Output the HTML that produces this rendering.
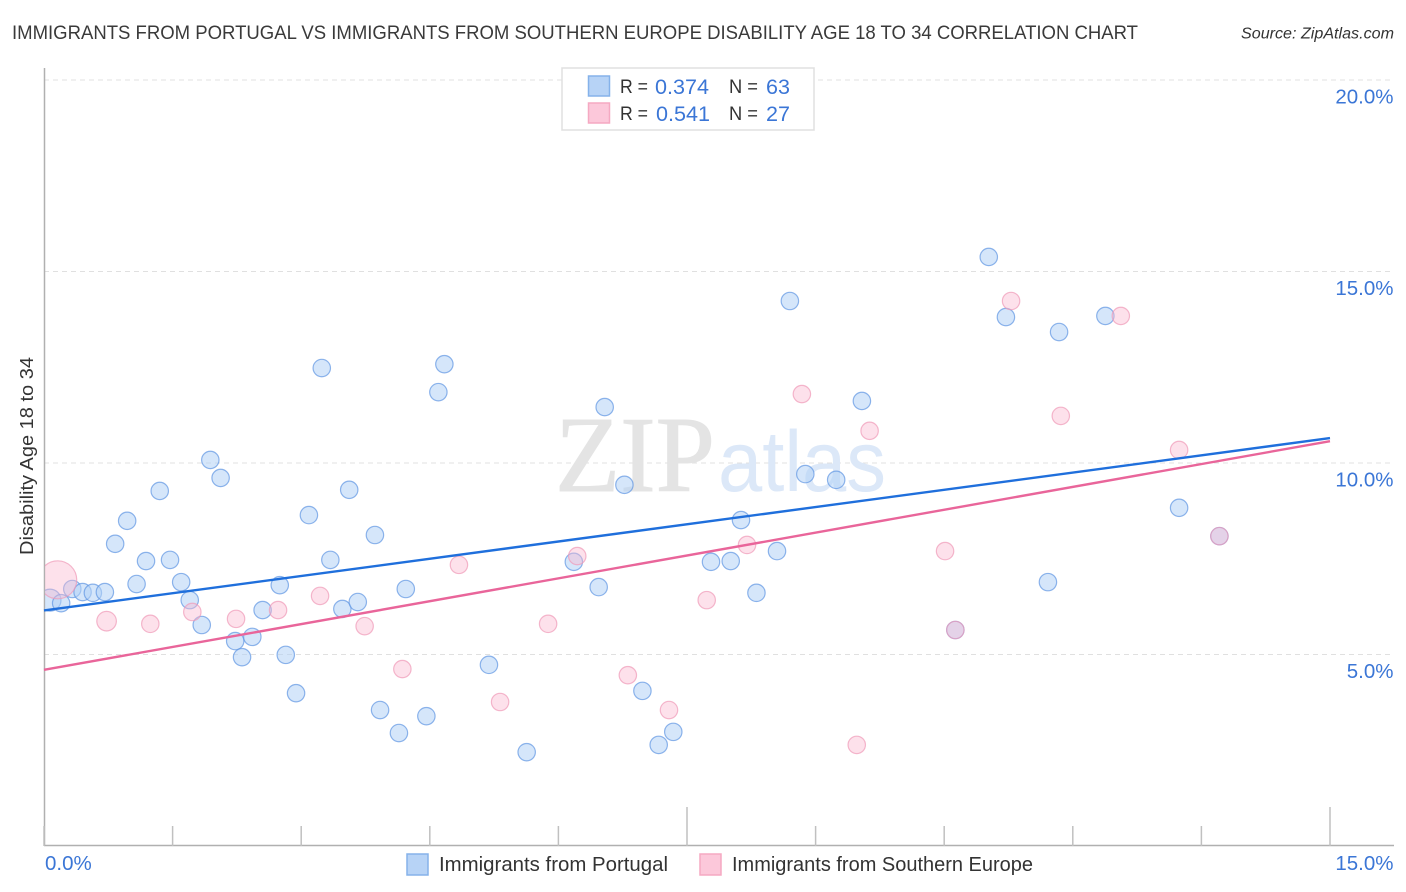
<!DOCTYPE html>
<html>
<head>
<meta charset="utf-8">
<title>Immigrants from Portugal vs Immigrants from Southern Europe Disability Age 18 to 34 Correlation Chart</title>
<style>
html,body{margin:0;padding:0;background:#fff;}
svg{display:block;font-family:"Liberation Sans",sans-serif;}
</style>
</head>
<body>
<svg id="chart" xmlns="http://www.w3.org/2000/svg" width="1406" height="892" viewBox="0 0 1406 892">
  <text x="12" y="39" font-size="19" fill="#3a3a3a" textLength="1126" lengthAdjust="spacingAndGlyphs">IMMIGRANTS FROM PORTUGAL VS IMMIGRANTS FROM SOUTHERN EUROPE DISABILITY AGE 18 TO 34 CORRELATION CHART</text>
  <text x="1241" y="38.5" font-size="15.5" font-style="italic" fill="#333" textLength="153" lengthAdjust="spacingAndGlyphs">Source: ZipAtlas.com</text>

  <g id="grid"></g>

  <g>
    <text x="555" y="491" font-family="'Liberation Serif',serif" font-size="108" fill="#e4e4e4" stroke="#e4e4e4" stroke-width="1" textLength="160" lengthAdjust="spacingAndGlyphs">ZIP</text>
    <text x="718" y="491" font-size="86" fill="#dce8f8" textLength="168" lengthAdjust="spacingAndGlyphs">atlas</text>
  </g>

  <g id="axes"></g>
  <g id="points-blue"></g>
  <g id="points-pink"></g>
  <g id="lines"></g>
  <g id="labels"></g>

  <text transform="translate(33,456) rotate(-90)" text-anchor="middle" font-size="18.5" fill="#333" textLength="198" lengthAdjust="spacingAndGlyphs">Disability Age 18 to 34</text>

  <g>
    <rect x="562" y="68" width="252" height="62" fill="#fff" stroke="#e0e0e0" stroke-width="1.5"/>
    <rect x="588.5" y="76" width="21" height="20" fill="#b7d3f6" stroke="#85b2ea" stroke-width="1.5"/>
    <rect x="588.5" y="103" width="21" height="20" fill="#fcc8da" stroke="#f5a9c2" stroke-width="1.5"/>
    <text x="620" y="93" font-size="19.5" fill="#333" textLength="28" lengthAdjust="spacingAndGlyphs">R =</text>
    <text x="655" y="94" font-size="21" fill="#3b76d6" textLength="54" lengthAdjust="spacingAndGlyphs">0.374</text>
    <text x="729" y="93" font-size="19.5" fill="#333" textLength="29" lengthAdjust="spacingAndGlyphs">N =</text>
    <text x="766" y="94" font-size="21" fill="#3b76d6" textLength="24" lengthAdjust="spacingAndGlyphs">63</text>
    <text x="620" y="120" font-size="19.5" fill="#333" textLength="28" lengthAdjust="spacingAndGlyphs">R =</text>
    <text x="656" y="121" font-size="21" fill="#3b76d6" textLength="54" lengthAdjust="spacingAndGlyphs">0.541</text>
    <text x="729" y="120" font-size="19.5" fill="#333" textLength="29" lengthAdjust="spacingAndGlyphs">N =</text>
    <text x="766" y="121" font-size="21" fill="#3b76d6" textLength="24" lengthAdjust="spacingAndGlyphs">27</text>
  </g>

  <g>
    <rect x="407" y="854" width="21" height="21" fill="#b7d3f6" stroke="#85b2ea" stroke-width="1.5"/>
    <text x="439" y="871" font-size="20" fill="#333" textLength="229" lengthAdjust="spacingAndGlyphs">Immigrants from Portugal</text>
    <rect x="700" y="854" width="21" height="21" fill="#fcc8da" stroke="#f5a9c2" stroke-width="1.5"/>
    <text x="732" y="871" font-size="20" fill="#333" textLength="301" lengthAdjust="spacingAndGlyphs">Immigrants from Southern Europe</text>
  </g>
</svg>

<script>
const yTickValues = [5, 10, 15, 20];
const yTickLabels = ["5.0%", "10.0%", "15.0%", "20.0%"];
const xTickValues = [0, 1.5, 3, 4.5, 6, 7.5, 9, 10.5, 12, 13.5, 15];
const xEndLabels = ["0.0%", "15.0%"];

const portugalX = [0.07,0.20,0.33,0.45,0.57,0.71,1.08,0.83,0.97,1.19,1.47,1.35,1.60,1.70,1.84,1.94,2.06,2.23,2.31,2.43,2.55,2.75,2.82,2.94,3.09,3.24,3.34,3.48,3.56,3.66,3.86,3.92,4.14,4.22,4.46,4.60,4.67,5.19,5.63,6.18,6.47,6.54,6.77,6.98,7.17,7.34,7.78,8.01,8.13,8.31,8.55,8.70,8.88,9.24,9.54,10.63,11.02,11.22,11.71,11.84,12.38,13.24,13.71];
const portugalY = [6.42,6.34,6.71,6.63,6.61,6.63,6.84,7.89,8.49,7.44,7.47,9.27,6.89,6.42,5.77,10.08,9.61,5.35,4.93,5.46,6.16,6.81,4.99,3.99,8.64,12.48,7.47,6.19,9.30,6.37,8.12,3.55,2.95,6.71,3.39,11.85,12.58,4.73,2.45,7.42,6.76,11.46,9.43,4.05,2.64,2.98,7.42,7.44,8.51,6.61,7.70,14.23,9.71,9.56,11.62,5.64,15.38,13.81,6.89,13.42,13.84,8.83,8.09];
const europeX = [0.16,0.73,1.24,1.73,2.24,2.73,3.22,3.74,4.18,4.84,5.32,5.88,6.22,6.81,7.29,7.73,8.20,8.84,9.48,9.63,10.51,10.63,11.28,11.86,12.56,13.24,13.71];
const europeY = [6.95,5.87,5.80,6.11,5.93,6.16,6.53,5.74,4.62,7.34,3.76,5.80,7.57,4.46,3.55,6.42,7.86,11.80,2.64,10.84,7.70,5.64,14.23,11.23,13.84,10.34,8.09];

const trendX = [0, 15];
const portugalTrend = [6.15, 10.65];
const europeTrend = [4.60, 10.57];

const svgNS = "http://www.w3.org/2000/svg";
const sx = v => 44 + v * 85.733;
const sy = v => 654.5 - (v - 5) * 38.3;

function make(tag, parent, attrs) {
  const el = document.createElementNS(svgNS, tag);
  for (const k in attrs) el.setAttribute(k, attrs[k]);
  document.getElementById(parent).appendChild(el);
  return el;
}

yTickValues.forEach(function (v, i) {
  const g = make("line", "grid", {x1: 44, x2: 1394, y1: sy(v), y2: sy(v), stroke: "#e0e0e0", "stroke-width": 1, "stroke-dasharray": "5 4"});
  
  
  const t = make("text", "labels", {x: 1393.5, y: sy(v) + 23.5, "text-anchor": "end", "font-size": 20.5, fill: "#3b76d6"});
  t.textContent = yTickLabels[i];
  
  
});

const yAxis = make("line", "axes", {x1: 44.5, x2: 44.5, y1: 68, y2: 846, stroke: "#b0b0b0", "stroke-width": 1.5});


const xAxis = make("line", "axes", {x1: 44, x2: 1394, y1: 845.5, y2: 845.5, stroke: "#b0b0b0", "stroke-width": 1.5});



xTickValues.forEach(function (v) {
  const major = v === 7.5 || v === 15;
  const tick = make("line", "axes", {x1: sx(v), x2: sx(v), y1: major ? 807 : 826, y2: 846, stroke: "#c0c0c0", "stroke-width": 1.5});
  
  
});

const x0 = make("text", "labels", {x: 45, y: 870, "font-size": 20.5, fill: "#3b76d6"});
x0.textContent = xEndLabels[0];


const x1 = make("text", "labels", {x: 1393.5, y: 870, "text-anchor": "end", "font-size": 20.5, fill: "#3b76d6"});
x1.textContent = xEndLabels[1];



const clip = make("clipPath", "axes", {id: "plot-clip"});
const clipRect = document.createElementNS(svgNS, "rect");
clipRect.setAttribute("x", 45);
clipRect.setAttribute("y", 60);
clipRect.setAttribute("width", 1350);
clipRect.setAttribute("height", 786);
clip.appendChild(clipRect);

portugalX.forEach(function (v, i) {
  const c = make("circle", "points-blue", {cx: sx(v), cy: sy(portugalY[i]), r: i === 0 ? 11 : 8.7, fill: "#b3d1f5", "fill-opacity": 0.55, stroke: "#5f96e2", "stroke-opacity": 0.7, "stroke-width": 1.2, "clip-path": "url(#plot-clip)"});
  
  
});

europeX.forEach(function (v, i) {
  const c = make("circle", "points-pink", {cx: sx(v), cy: sy(europeY[i]), r: i === 0 ? 19 : (i === 1 ? 9.8 : 8.7), fill: "#fbb8cf", "fill-opacity": 0.42, stroke: "#f09ab8", "stroke-opacity": 0.7, "stroke-width": 1.2, "clip-path": "url(#plot-clip)"});
  
  
});

const lineBlue = make("line", "lines", {x1: sx(trendX[0]), x2: sx(trendX[1]), y1: sy(portugalTrend[0]), y2: sy(portugalTrend[1]), stroke: "#1f6fdc", "stroke-width": 2.4});


const linePink = make("line", "lines", {x1: sx(trendX[0]), x2: sx(trendX[1]), y1: sy(europeTrend[0]), y2: sy(europeTrend[1]), stroke: "#e9659a", "stroke-width": 2.4});


</script>
</body>
</html>
